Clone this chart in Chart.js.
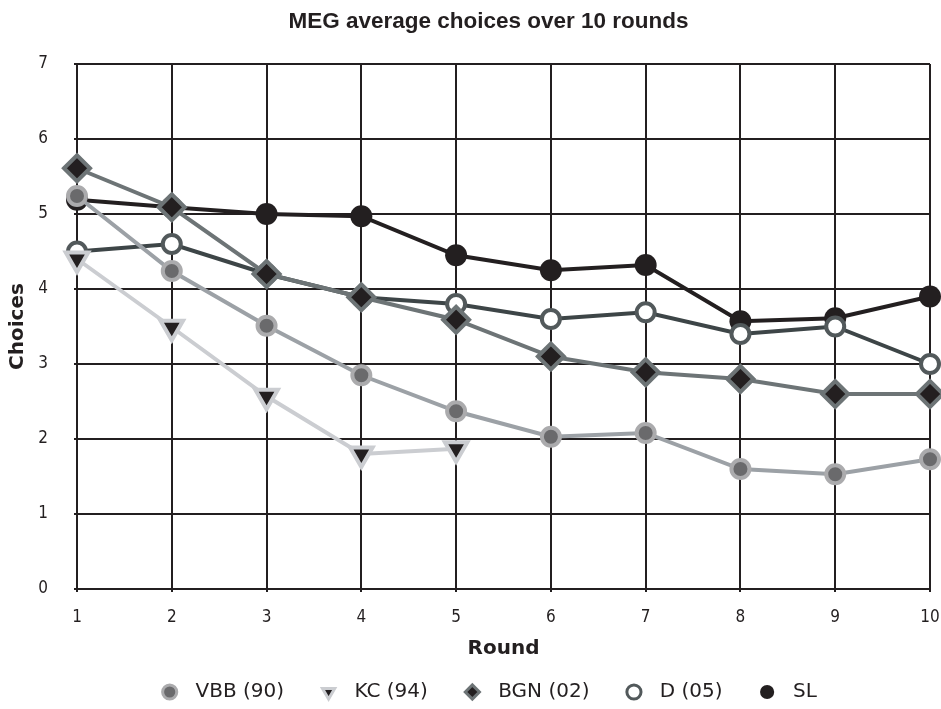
<!DOCTYPE html>
<html>
<head>
<meta charset="utf-8">
<script src="https://cdn.jsdelivr.net/npm/chart.js@4"></script>
<style>
  html, body { margin: 0; padding: 0; background: #fff; }
  #wrap { width: 941px; height: 709px; }
</style>
</head>
<body>
<div id="wrap"><canvas id="chart" width="941" height="709"></canvas></div>
<script>
// rounds and average choices per group
const rounds = ['1', '2', '3', '4', '5', '6', '7', '8', '9', '10'];
const vbb = [5.24, 4.24, 3.51, 2.85, 2.37, 2.03, 2.08, 1.6, 1.53, 1.73];
const kc = [4.4, 3.49, 2.57, 1.8, 1.87, null, null, null, null, null];
const bgn = [5.61, 5.09, 4.2, 3.89, 3.59, 3.1, 2.89, 2.8, 2.6, 2.6];
const d05 = [4.5, 4.6, 4.2, 3.89, 3.8, 3.6, 3.69, 3.4, 3.5, 3.0];
const sl = [5.19, 5.09, 5.0, 4.97, 4.45, 4.25, 4.32, 3.57, 3.61, 3.9];
const yTicks = [0, 1, 2, 3, 4, 5, 6, 7];

const ink = '#231f20';
const tickFont = { family: 'DejaVu Sans Condensed, DejaVu Sans', size: 17 };

// title and legend sit a bit right of the canvas centre in the original
const shiftBoxes = {
    id: 'shiftBoxes',
    afterLayout(chart) {
        [chart.titleBlock, chart.legend].forEach(b => {
            if (b) { b.left += 18; b.right += 18; }
        });
    }
};

const ctx = document.getElementById('chart').getContext('2d');
new Chart(ctx, {
    type: 'line',
    data: {
        labels: rounds,
        datasets: [
            { label: 'VBB (90)', data: vbb, order: 3, borderColor: '#9ca1a6', borderWidth: 4,
              pointStyle: 'circle', pointRadius: 9, pointBorderWidth: 4,
              pointBackgroundColor: '#6a6a6c', pointBorderColor: '#ababad' },
            { label: 'KC (94)', data: kc, order: 2, borderColor: '#cbcdd1', borderWidth: 4,
              pointStyle: 'triangle', rotation: 180, pointRadius: 13, pointBorderWidth: 4,
              pointBackgroundColor: ink, pointBorderColor: '#cbcdd1' },
            { label: 'BGN (02)', data: bgn, order: 1, borderColor: '#6d7476', borderWidth: 4,
              pointStyle: 'rectRot', pointRadius: 13, pointBorderWidth: 4,
              pointBackgroundColor: ink, pointBorderColor: '#6d7476' },
            { label: 'D (05)', data: d05, order: 4, borderColor: '#3d4547', borderWidth: 4,
              pointStyle: 'circle', pointRadius: 9, pointBorderWidth: 4,
              pointBackgroundColor: '#ffffff', pointBorderColor: '#52595b' },
            { label: 'SL', data: sl, order: 5, borderColor: ink, borderWidth: 4,
              pointStyle: 'circle', pointRadius: 11, pointBorderWidth: 0,
              pointBackgroundColor: ink, pointBorderColor: ink }
        ]
    },
    plugins: [shiftBoxes],
    options: {
        responsive: false,
        animation: false,
        layout: { autoPadding: false, padding: { left: 0, right: 0, top: 0, bottom: -3 } },
        plugins: {
            title: {
                display: true,
                text: 'MEG average choices over 10 rounds',
                color: ink,
                font: { family: 'Liberation Sans', size: 22.5, weight: 'bold' },
                padding: { top: 8, bottom: 29 }
            },
            legend: {
                position: 'bottom',
                labels: {
                    usePointStyle: true,
                    boxWidth: 19,
                    boxHeight: 10,
                    padding: 35,
                    color: ink,
                    font: { family: 'DejaVu Sans', size: 20 },
                    sort: (a, b) => a.datasetIndex - b.datasetIndex,
                    generateLabels: chart => {
                        const items = Chart.defaults.plugins.legend.labels.generateLabels(chart);
                        items.forEach(it => {
                            it.text = ' ' + it.text;
                            it.lineWidth = it.lineWidth === 0 ? 0 : 3;
                        });
                        return items;
                    }
                }
            },
            tooltip: { enabled: false }
        },
        scales: {
            x: {
                offset: false,
                afterFit: axis => {
                    axis.height = 58;
                    axis.paddingLeft = 0;
                    axis.paddingRight = 11;
                },
                grid: { color: ink, lineWidth: 2, tickLength: 3 },
                border: { color: ink, width: 2 },
                ticks: { color: ink, font: tickFont, padding: 15, maxRotation: 0 },
                title: {
                    display: true, text: 'Round', color: ink,
                    font: { family: 'DejaVu Sans', size: 20, weight: 'bold' },
                    padding: { top: 0, bottom: -14 }
                }
            },
            y: {
                min: 0, max: 7,
                afterBuildTicks: axis => { axis.ticks = yTicks.map(v => ({ value: v })); },
                afterFit: axis => { axis.width = 77; },
                grid: { color: ink, lineWidth: 2, tickLength: 3 },
                border: { color: ink, width: 2 },
                ticks: { color: ink, font: tickFont, padding: 26 },
                title: {
                    display: true, text: 'Choices', color: ink,
                    font: { family: 'DejaVu Sans', size: 20, weight: 'bold' },
                    padding: { top: 6, bottom: 0 }
                }
            }
        }
    }
});
</script>
</body>
</html>
